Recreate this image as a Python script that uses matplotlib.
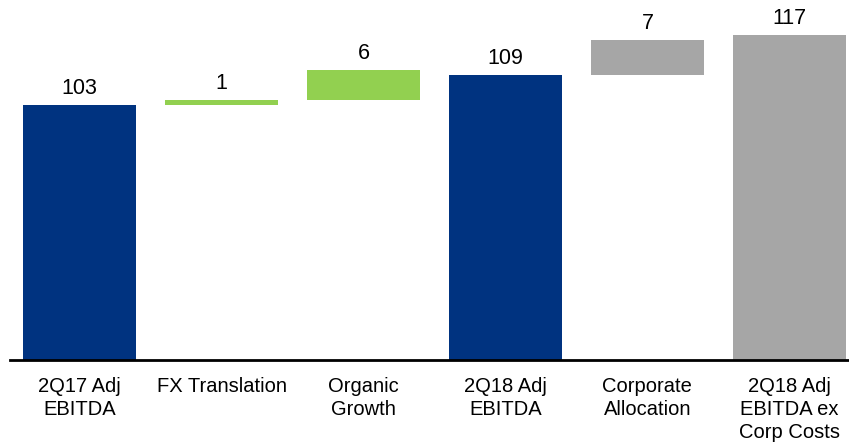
import numpy as np
from matplotlib import pyplot as plt

plt.rcParams['font.family'] = ['Liberation Sans', 'DejaVu Sans']

categories = ['2Q17 Adj\nEBITDA', 'FX Translation', 'Organic\nGrowth',
              '2Q18 Adj\nEBITDA', 'Corporate\nAllocation', '2Q18 Adj\nEBITDA ex\nCorp Costs']
values = [103, 1, 6, 109, 7, 117]
is_total = [True, False, False, True, False, True]
colors = ['#003380', '#92D050', '#92D050', '#003380', '#A6A6A6', '#A6A6A6']

# floating bars start where the running total left off
bottoms = []
running = 0
for v, total in zip(values, is_total):
    if total:
        bottoms.append(0)
        running = v
    else:
        bottoms.append(running)
        running += v

fig = plt.figure(figsize=(8.49, 4.45), dpi=100)
ax = fig.add_axes([10 / 849, 85 / 445, 839 / 849, 360 / 445])

x = np.arange(len(categories))
ax.bar(x, values, bottom=bottoms, width=0.8, color=colors, zorder=2)

for xi, v, b in zip(x, values, bottoms):
    ax.annotate(str(v), (xi, b + v), xytext=(0, 4), textcoords='offset points',
                ha='center', va='bottom', fontsize=15.5)

ax.set_ylim(52, 124)
ax.set_xlim(-0.49, 5.42)
ax.set_xticks(x)
ax.set_xticklabels(categories, fontsize=14.5, linespacing=1.28)
ax.tick_params(axis='x', length=0, pad=12)
ax.set_yticks([])
for side in ['left', 'right', 'top']:
    ax.spines[side].set_visible(False)
ax.spines['bottom'].set_linewidth(2)
ax.spines['bottom'].set_color('black')
ax.spines['bottom'].set_zorder(3)

plt.savefig('out.png', dpi=100)
